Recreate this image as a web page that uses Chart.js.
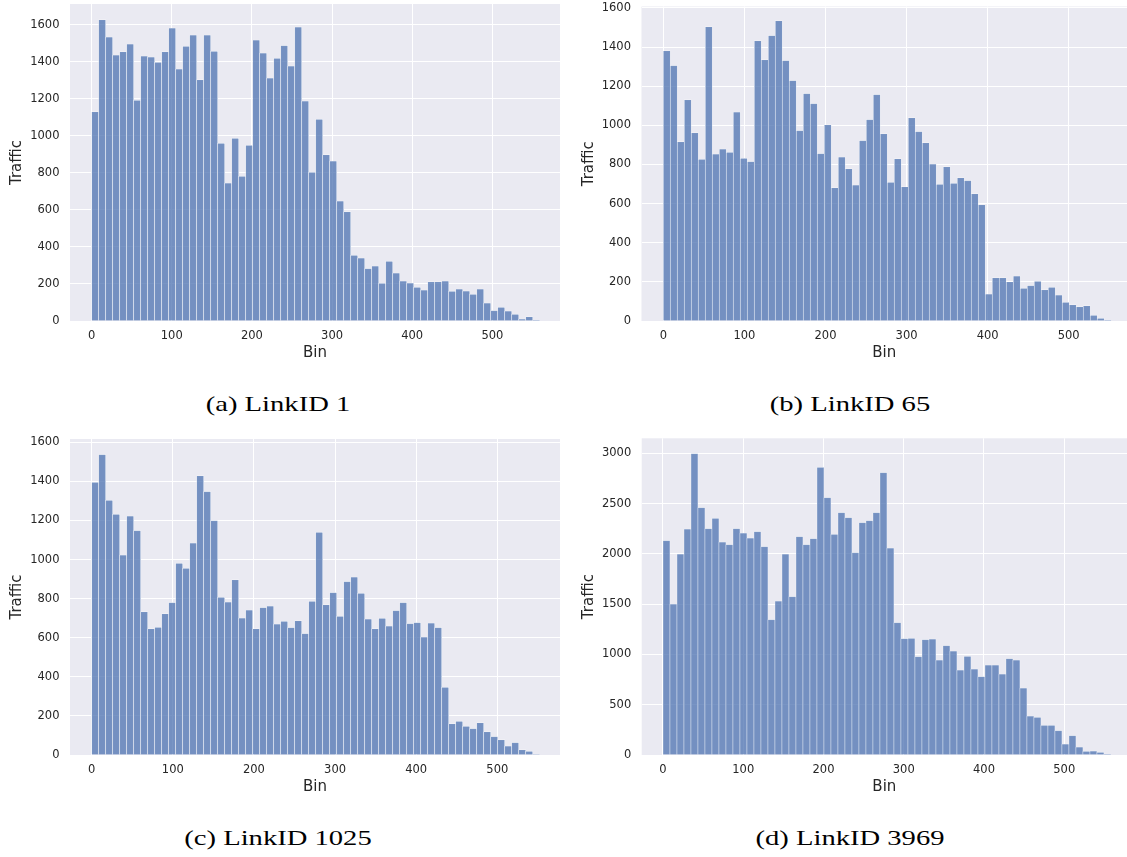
<!DOCTYPE html>
<html>
<head>
<meta charset="utf-8">
<script src="https://cdn.jsdelivr.net/npm/chart.js@4.4.1/dist/chart.umd.min.js"></script>
<style>
  body { margin: 0; background: #fff; width: 1127px; height: 857px; position: relative; overflow: hidden; }
  canvas { position: absolute; }
  .caption {
    position: absolute;
    font-family: "Liberation Serif", serif;
    font-size: 22px;
    line-height: 22px;
    color: #000;
    white-space: nowrap;
    transform: translateX(-50%) scaleX(1.3);
  }
</style>
</head>
<body>
<canvas id="chartA" width="560" height="370" style="left:0;top:0"></canvas>
<canvas id="chartB" width="555" height="370" style="left:572px;top:0"></canvas>
<canvas id="chartC" width="560" height="374" style="left:0;top:430px"></canvas>
<canvas id="chartD" width="555" height="374" style="left:572px;top:430px"></canvas>
<div class="caption" style="left:278px;top:393px">(a) LinkID 1</div>
<div class="caption" style="left:850px;top:393px">(b) LinkID 65</div>
<div class="caption" style="left:278px;top:827px">(c) LinkID 1025</div>
<div class="caption" style="left:850px;top:827px">(d) LinkID 3969</div>
<script>
// traffic per bin, 64 bins each
var link1Traffic = [
  1130, 1627, 1534, 1436, 1454, 1496, 1192, 1431, 1426, 1397,
  1454, 1582, 1361, 1483, 1544, 1303, 1544, 1456, 959, 745,
  986, 781, 949, 1517, 1447, 1312, 1418, 1487, 1377, 1588,
  1188, 803, 1089, 898, 864, 648, 589, 355, 340, 283,
  297, 203, 322, 259, 216, 205, 182, 167, 211, 212,
  216, 160, 173, 162, 144, 173, 97, 56, 74, 54,
  36, 11, 22, 2
];
var link65Traffic = [
  1381, 1305, 915, 1130, 962, 826, 1503, 853, 879, 862,
  1068, 831, 814, 1432, 1334, 1459, 1534, 1331, 1229, 973,
  1162, 1111, 855, 1002, 681, 838, 778, 695, 922, 1029,
  1157, 957, 708, 829, 686, 1038, 968, 911, 802, 698,
  788, 703, 732, 717, 650, 594, 138, 220, 220, 200,
  230, 167, 181, 203, 159, 172, 133, 96, 82, 72,
  78, 29, 14, 4
];
var link1025Traffic = [
  1395, 1537, 1303, 1232, 1023, 1223, 1148, 732, 645, 653,
  723, 780, 981, 955, 1085, 1428, 1348, 1199, 807, 783,
  896, 701, 742, 645, 754, 762, 670, 684, 652, 687,
  621, 786, 1139, 769, 831, 710, 887, 911, 827, 696,
  645, 699, 660, 739, 780, 672, 677, 604, 675, 652,
  346, 160, 172, 147, 135, 165, 118, 94, 77, 46,
  63, 26, 19, 3
];
var link3969Traffic = [
  2132, 1502, 1999, 2248, 2997, 2460, 2251, 2354, 2119, 2092,
  2251, 2208, 2158, 2221, 2072, 1346, 1532, 1999, 1575, 2172,
  2092, 2152, 2861, 2560, 2195, 2410, 2361, 2013, 2311, 2331,
  2410, 2808, 2059, 1316, 1157, 1160, 978, 1147, 1154, 945,
  1088, 1034, 845, 981, 855, 779, 895, 895, 806, 958,
  945, 666, 388, 375, 295, 295, 242, 109, 192, 80,
  36, 40, 27, 7
];
// bin width of each histogram
var binWidths = [8.736, 8.633, 8.629, 8.722];

// tick labels
var binTicks = [0, 100, 200, 300, 400, 500];
var trafficTicks = [0, 200, 400, 600, 800, 1000, 1200, 1400, 1600];
var trafficTicksLarge = [0, 500, 1000, 1500, 2000, 2500, 3000];

var tickFont = { family: "DejaVu Sans", size: 11.5 };
var titleFont = { family: "DejaVu Sans", size: 15 };
var textColor = "#262626";

var areaBackground = {
  id: "areaBackground",
  beforeDraw: function (chart) {
    var a = chart.chartArea;
    var ctx = chart.ctx;
    ctx.save();
    ctx.fillStyle = "#eaeaf2";
    ctx.fillRect(a.left, a.top, a.right - a.left, a.bottom - a.top);
    ctx.restore();
  }
};

function fixedTicks(values) {
  return function (scale) {
    scale.ticks = values.map(function (v) { return { value: v }; });
  };
}

function makeHist(id, values, binWidth, yTicks, o) {
  var points = values.map(function (v, i) {
    return { x: (i + 0.5) * binWidth, y: v };
  });
  return new Chart(document.getElementById(id), {
    type: "bar",
    data: {
      datasets: [{
        data: points,
        backgroundColor: "rgba(76, 114, 176, 0.75)",
        borderColor: "#ffffff",
        borderWidth: 0.5,
        borderSkipped: "start",
        barPercentage: 1,
        categoryPercentage: 1
      }]
    },
    options: {
      responsive: false,
      animation: false,
      layout: { padding: { top: o.padTop, right: 0, left: 0, bottom: 0 } },
      plugins: { legend: { display: false }, tooltip: { enabled: false } },
      scales: {
        x: {
          type: "linear",
          min: o.xMin,
          max: o.xMax,
          offset: false,
          grid: { color: "#ffffff", lineWidth: 1, drawTicks: false, offset: false },
          border: { display: false },
          ticks: {
            padding: 8, maxRotation: 0, autoSkip: false,
            color: textColor, font: tickFont,
            callback: function (v) { return String(v); }
          },
          afterBuildTicks: fixedTicks(binTicks),
          title: { display: true, text: "Bin", color: textColor, font: titleFont, padding: { top: 0, bottom: 8 } },
          afterFit: function (s) { s.height = 49; s.paddingLeft = 0; s.paddingRight = 0; }
        },
        y: {
          min: 0,
          max: o.yMax,
          grid: { color: "#ffffff", lineWidth: 1, drawTicks: false },
          border: { display: false },
          ticks: {
            padding: 10.5, autoSkip: false,
            color: textColor, font: tickFont,
            callback: function (v) { return String(v); }
          },
          afterBuildTicks: fixedTicks(yTicks),
          title: { display: true, text: "Traffic", color: textColor, font: titleFont, padding: { top: 8, bottom: 0 } },
          afterFit: function (s) { s.width = o.yWidth; s.paddingTop = 0; s.paddingBottom = 0; }
        }
      }
    },
    plugins: [areaBackground]
  });
}

makeHist("chartA", link1Traffic, binWidths[0], trafficTicks, { padTop: 4, xMin: -27.0, xMax: 584.4, yMax: 1712, yWidth: 70 });
makeHist("chartB", link65Traffic, binWidths[1], trafficTicks, { padTop: 6.5, xMin: -26.9, xMax: 571.9, yMax: 1607, yWidth: 69.5 });
makeHist("chartC", link1025Traffic, binWidths[2], trafficTicks, { padTop: 9, xMin: -26.7, xMax: 577.3, yMax: 1617, yWidth: 70 });
makeHist("chartD", link3969Traffic, binWidths[3], trafficTicksLarge, { padTop: 8.3, xMin: -26.5, xMax: 578.2, yMax: 3150, yWidth: 69.7 });
</script>
</body>
</html>
